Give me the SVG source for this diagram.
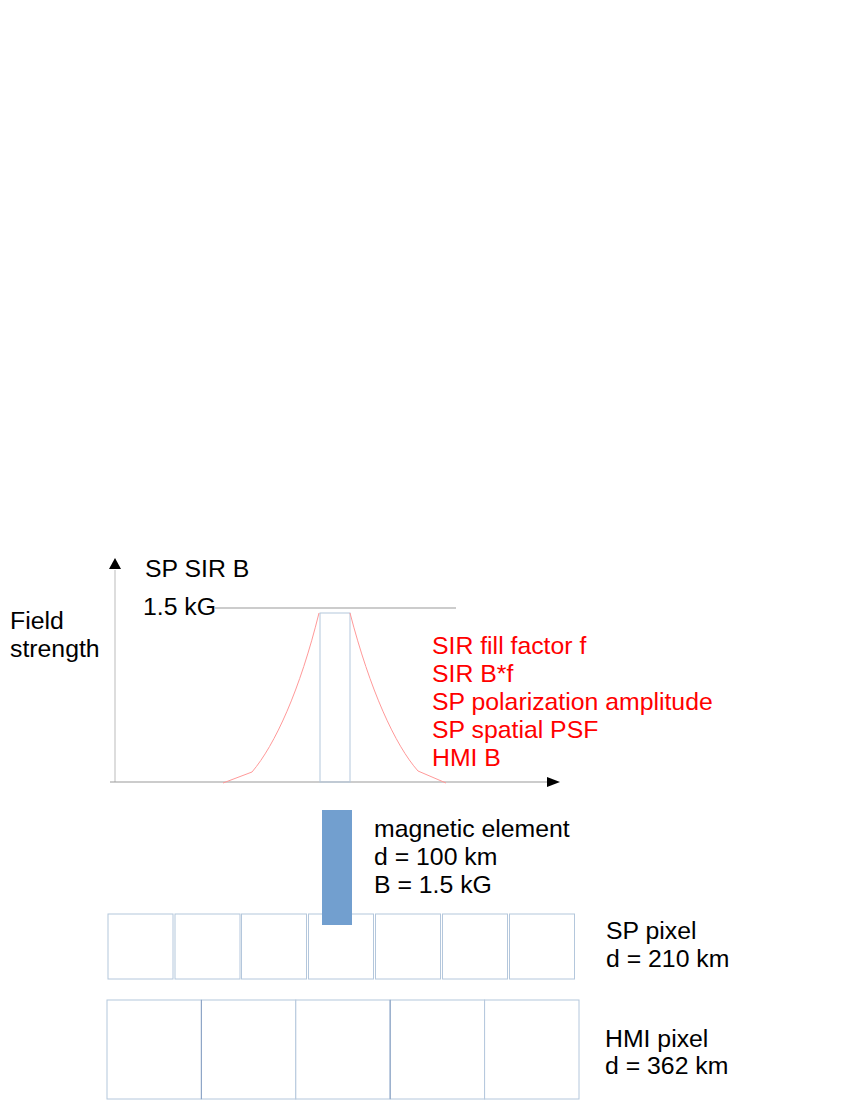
<svg xmlns="http://www.w3.org/2000/svg" width="850" height="1100" viewBox="0 0 850 1100">
<style>
text{font-family:"Liberation Sans",Arial,sans-serif;font-size:24.8px;fill:#000}
.red{fill:#ff0000}
.sp{fill:#fff;stroke:#b4c7dc;stroke-width:1}
.hmi{fill:#fff;stroke:#b4c7dc;stroke-width:1}
</style>
<rect width="850" height="1100" fill="#fff"/>
<g id="axes">
<line x1="115" y1="782" x2="115" y2="570" stroke="#dddddd" stroke-width="2"/>
<path d="M109,569 L115,558 L121,569 Z" fill="#000"/>
<line x1="110" y1="782" x2="547" y2="782" stroke="#999999" stroke-width="1"/>
<path d="M547,777 L560,782 L547,787 Z" fill="#000"/>
<line x1="215" y1="608" x2="456" y2="608" stroke="#999999" stroke-width="1"/>
</g>
<g id="curves">
<rect x="320" y="613" width="30" height="169" fill="none" stroke="#b4c7dc" stroke-width="1"/>
<path d="M223,783 L252,772 C275,745 300,690 319,613" fill="none" stroke="#ff9999" stroke-width="1"/>
<path d="M350,613 C370,690 395,745 418,771 L446,783" fill="none" stroke="#ff9999" stroke-width="1"/>
</g>
<g id="labels">
<text x="145" y="577">SP SIR B</text>
<text x="143" y="615">1.5 kG</text>
<text x="10" y="629">Field</text>
<text x="10" y="657">strength</text>
</g>
<g id="legend">
<text class="red" x="432" y="654">SIR fill factor f</text>
<text class="red" x="432" y="682">SIR B*f</text>
<text class="red" x="432" y="710">SP polarization amplitude</text>
<text class="red" x="432" y="738">SP spatial PSF</text>
<text class="red" x="432" y="766">HMI B</text>
</g>
<g id="sp-pixels">
<rect class="sp" x="108" y="914" width="65" height="65"/>
<rect class="sp" x="175" y="914" width="65" height="65"/>
<rect class="sp" x="241.5" y="914" width="65" height="65"/>
<rect class="sp" x="308.5" y="914" width="65" height="65"/>
<rect class="sp" x="375.5" y="914" width="65" height="65"/>
<rect class="sp" x="442.5" y="914" width="65" height="65"/>
<rect class="sp" x="509.5" y="914" width="65" height="65"/>
</g>
<g id="magnetic-element">
<rect x="322" y="810" width="30" height="115" fill="#729fcf"/>
<text x="374" y="837">magnetic element</text>
<text x="374" y="865">d = 100 km</text>
<text x="374" y="893">B = 1.5 kG</text>
</g>
<g id="sp-label">
<text x="606" y="939">SP pixel</text>
<text x="606" y="967">d = 210 km</text>
</g>
<g id="hmi-pixels">
<rect class="hmi" x="107" y="1000" width="94.4" height="99"/>
<rect class="hmi" x="201.4" y="1000" width="94.4" height="99"/>
<rect class="hmi" x="295.8" y="1000" width="94.4" height="99"/>
<rect class="hmi" x="390.2" y="1000" width="94.4" height="99"/>
<rect class="hmi" x="484.6" y="1000" width="94.4" height="99"/>
<line x1="201.4" y1="1000" x2="201.4" y2="1099" stroke="#8aa2c4" stroke-width="1"/>
<line x1="390.2" y1="1000" x2="390.2" y2="1099" stroke="#8aa2c4" stroke-width="1"/>
</g>
<g id="hmi-label">
<text x="605" y="1047">HMI pixel</text>
<text x="605" y="1074">d = 362 km</text>
</g>
</svg>
